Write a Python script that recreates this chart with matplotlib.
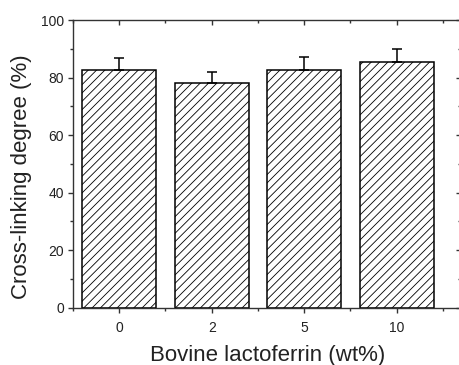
import matplotlib
matplotlib.use("Agg")
import matplotlib.pyplot as plt
from matplotlib.ticker import MultipleLocator, FixedLocator, NullFormatter

categories = ["0", "2", "5", "10"]
values = [82.6, 78.2, 82.6, 85.3]
errors = [4.1, 3.8, 4.4, 4.5]
ylabel = "Cross-linking degree (%)"
xlabel = "Bovine lactoferrin (wt%)"

plt.rcParams['font.family'] = ['Liberation Sans', 'DejaVu Sans']
plt.rcParams['hatch.color'] = '#777777'
plt.rcParams['hatch.linewidth'] = 0.6

fig = plt.figure(figsize=(4.6, 3.65), dpi=100)
pos = [73/460, 1-307.7/365, (461.5-73)/460, (307.7-20)/365]
ax = fig.add_axes(pos)

x = list(range(len(categories)))
ax.bar(x, values, width=0.8, facecolor='white', edgecolor='black',
       linewidth=1.1, hatch='////', zorder=2)
ax.errorbar(x, values, yerr=[[0]*len(errors), errors], fmt='none',
            ecolor='black', elinewidth=1.1, capsize=3.5, capthick=1.1, zorder=3)

ax.set_xlim(-0.5, 3.7)
ax.set_ylim(0, 100)
ax.set_xticks(x)
ax.set_xticklabels(categories)
ax.xaxis.set_minor_locator(FixedLocator([-0.5, 0.5, 1.5, 2.5, 3.5]))
ax.xaxis.set_minor_formatter(NullFormatter())
ax.yaxis.set_major_locator(MultipleLocator(20))
ax.yaxis.set_minor_locator(MultipleLocator(10))

tc = '#333333'
for s in ax.spines.values():
    s.set_linewidth(1.0)
    s.set_color(tc)

ax.tick_params(axis='both', which='major', labelsize=10, length=3.6, width=1.0,
               color=tc, labelcolor='#222222', direction='out')
ax.tick_params(axis='both', which='minor', length=2.2, width=1.0, color=tc, direction='out')
ax.tick_params(axis='x', which='major', pad=6)
ax.tick_params(axis='y', which='major', pad=3)

# overlay axes for inward top/right ticks
ax2 = fig.add_axes(pos, sharex=ax, sharey=ax)
ax2.patch.set_visible(False)
for s in ax2.spines.values():
    s.set_visible(False)
ax2.tick_params(axis='both', which='both', direction='in', color=tc, width=1.0,
                bottom=False, left=False, top=True, right=True,
                labelbottom=False, labelleft=False, labeltop=False, labelright=False)
ax2.tick_params(axis='both', which='major', length=3.6)
ax2.tick_params(axis='both', which='minor', length=2.2)

ax.set_xlabel(xlabel, fontsize=16, color='#222222', labelpad=7)
ax.set_ylabel(ylabel, fontsize=16, color='#222222')
ax.yaxis.set_label_coords(-0.106, 0.455)

fig.savefig("out.png", dpi=100)
